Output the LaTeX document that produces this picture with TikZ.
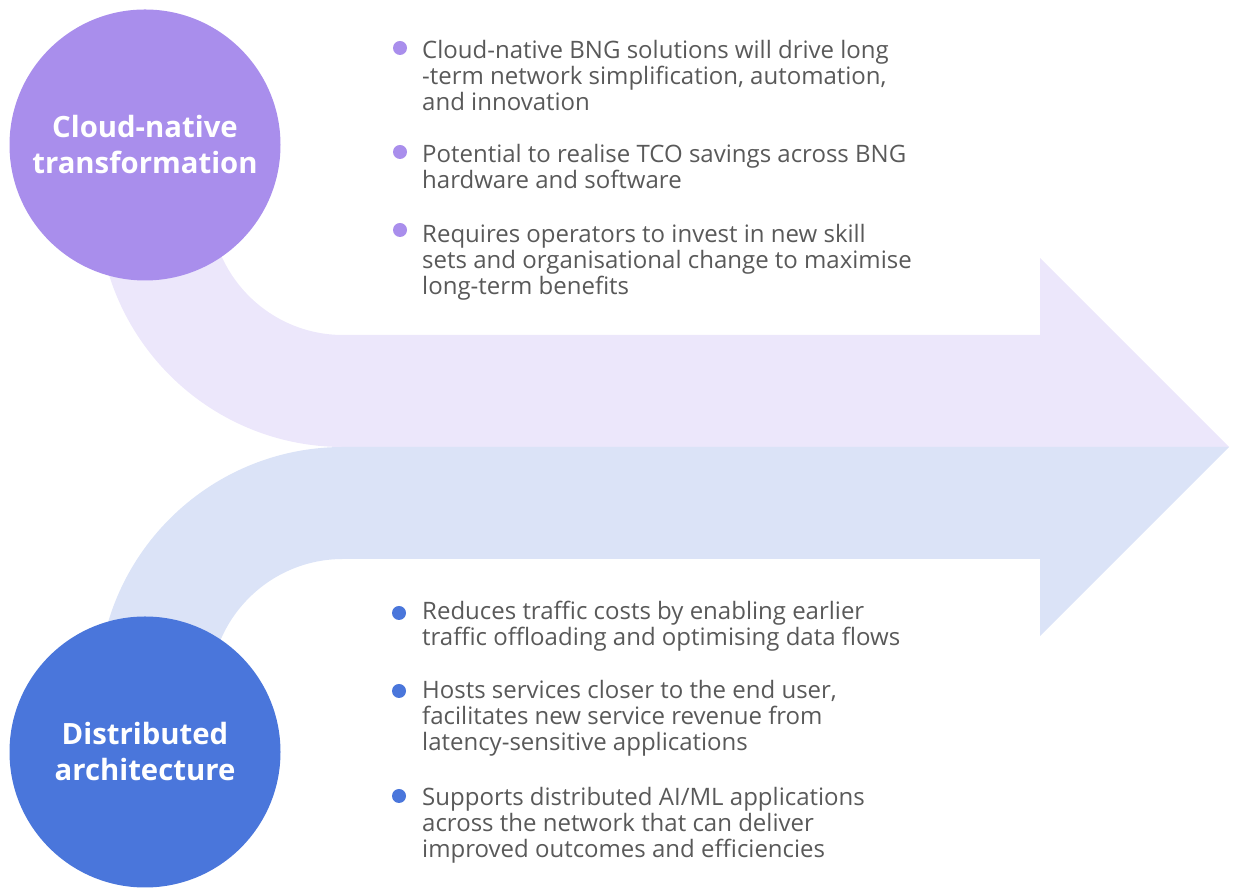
\documentclass[tikz,border=0pt]{standalone}
\usepackage{fontspec}
\setmainfont{Open Sans}
\definecolor{lilac}{HTML}{A98EEC}
\definecolor{lilacband}{HTML}{ECE7FB}
\definecolor{royal}{HTML}{4A76DB}
\definecolor{royalband}{HTML}{DBE3F7}
\definecolor{bodytext}{HTML}{595959}
\tikzset{
  hub/.style={circle, minimum size=271pt, inner sep=0pt, text=white, align=center,
    font=\fontsize{29.3}{36}\selectfont\bfseries},
  bulletdot/.style={circle, minimum size=14pt, inner sep=0pt},
  % anchored at the baseline of the last line
  bullettext/.style={anchor=base west, inner sep=0pt, align=left, text=bodytext,
    font=\fontsize{24}{26}\selectfont}
}
\begin{document}
\begin{tikzpicture}[x=1pt, y=1pt]
\useasboundingbox (0,0) rectangle (1237,888);

% upper band: bends down from the top hub into the arrow
\fill[lilacband] (98,686) arc[start angle=180, end angle=270, radius=245]
  -- (1229,441) -- (1040,630) -- (1040,553) -- (343,553)
  arc[start angle=270, end angle=180, radius=133] -- cycle;

% lower band: bends up from the bottom hub into the arrow
\fill[royalband] (98,196) arc[start angle=180, end angle=90, radius=245]
  -- (1229,441) -- (1040,252) -- (1040,329) -- (343,329)
  arc[start angle=90, end angle=180, radius=133] -- cycle;

% hubs
\node[hub, fill=lilac] (cloud) at (145,743) {Cloud-native\\transformation};
\node[hub, fill=royal] (distr) at (145,136) {Distributed\\architecture};

% cloud-native points
\node[bulletdot, fill=lilac] (c1) at (400,840) {};
\node[bulletdot, fill=lilac] (c2) at (400,736) {};
\node[bulletdot, fill=lilac] (c3) at (400,658) {};
\node[bullettext] (ct1) at (422,777) {Cloud-native BNG solutions will drive long\\-term network simplification, automation,\\and innovation};
\node[bullettext] (ct2) at (422,699) {Potential to realise TCO savings across BNG\\hardware and software};
\node[bullettext] (ct3) at (422,593) {Requires operators to invest in new skill\\sets and organisational change to maximise\\long-term benefits};

% distributed points
\node[bulletdot, fill=royal] (d1) at (399,275) {};
\node[bulletdot, fill=royal] (d2) at (399,197) {};
\node[bulletdot, fill=royal] (d3) at (399,92) {};
\node[bullettext] (dt1) at (422,242) {Reduces traffic costs by enabling earlier\\traffic offloading and optimising data flows};
\node[bullettext] (dt2) at (422,137) {Hosts services closer to the end user,\\facilitates new service revenue from\\latency-sensitive applications};
\node[bullettext] (dt3) at (422,30) {Supports distributed AI/ML applications\\across the network that can deliver\\improved outcomes and efficiencies};
\end{tikzpicture}
\end{document}
